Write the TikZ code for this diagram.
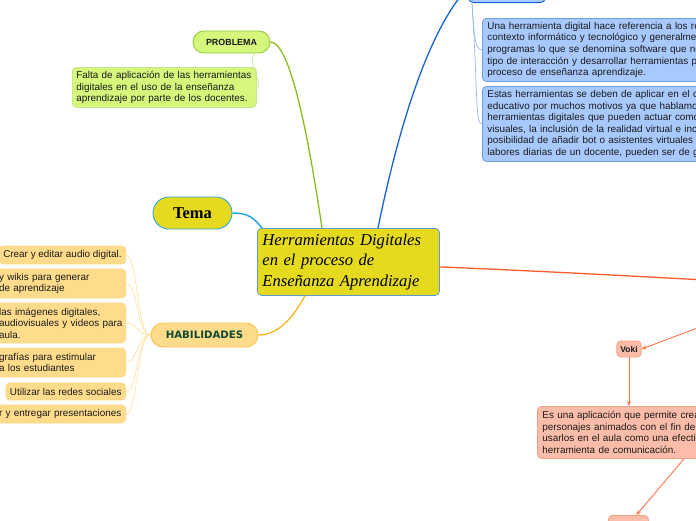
\documentclass[tikz,border=0pt]{standalone}
\usepackage{fontspec}
\setmainfont{Liberation Sans}
\newfontfamily\seriff{Liberation Serif}
\newfontfamily\verdf{DejaVu Sans}
\usetikzlibrary{arrows.meta,shapes.misc,calc}
\definecolor{cyel}{HTML}{E5DA1E}
\definecolor{cyelb}{HTML}{5B9BD5}
\definecolor{ctemab}{HTML}{2AA7DF}
\definecolor{cgrn}{HTML}{D4F77C}
\definecolor{cgrnb}{HTML}{98C83C}
\definecolor{cgrnl}{HTML}{C5E98A}
\definecolor{cgrnline}{HTML}{8DBA1F}
\definecolor{cblu}{HTML}{A8C9FD}
\definecolor{cblub}{HTML}{6E9FE6}
\definecolor{cbluline}{HTML}{1565D0}
\definecolor{cblulight}{HTML}{94B9EE}
\definecolor{cora}{HTML}{FFDC8B}
\definecolor{corab}{HTML}{F9C24A}
\definecolor{coral}{HTML}{FBD88A}
\definecolor{coraline}{HTML}{FFB41E}
\definecolor{coralight}{HTML}{FFE3A6}
\definecolor{csal}{HTML}{FBBDA9}
\definecolor{csalb}{HTML}{F7A183}
\definecolor{cred}{HTML}{FF5A2B}
\definecolor{credl}{HTML}{FF7448}
\definecolor{cgreen}{HTML}{0F4A30}
\definecolor{txt}{HTML}{1A1A1A}
\begin{document}
\begin{tikzpicture}[x=1pt,y=-1pt,
  box/.style={draw, rounded corners=4pt, line width=0.8pt, inner xsep=4pt, inner ysep=0pt,
    align=left, text=txt, font=\fontsize{9.9}{11.6}\selectfont},
  pillbox/.style={draw, rounded rectangle, line width=0.9pt, inner sep=0pt},
  thinline/.style={line width=0.7pt},
  mainline/.style={line width=1.3pt},
  arr/.style={line width=0.9pt, color=credl, -{Stealth[length=5pt,width=4pt]}}
]
\useasboundingbox (0,0) rectangle (696,520);
\clip (0,0) rectangle (696,520);

% central
\node[draw=cyelb, fill=cyel, rounded corners=4pt, line width=0.8pt, anchor=north west,
  minimum width=182pt, minimum height=67pt, text width=172pt, inner xsep=5pt, align=left,
  font=\seriff\itshape\fontsize{16.6}{20.6}\selectfont, text=black]
  (central) at (257,228) {Herramientas Digitales\\en el proceso de\\Enseñanza Aprendizaje};

% Tema
\node[pillbox, draw=ctemab, fill=cyel, minimum width=79pt, minimum height=32pt,
  font=\seriff\bfseries\fontsize{16.5}{18}\selectfont] (tema) at (192.5,213) {Tema};

% PROBLEMA
\node[pillbox, draw=cgrnb, fill=cgrn, minimum width=77pt, minimum height=22pt,
  font=\bfseries\fontsize{8.9}{10}\selectfont, text=txt] (prob) at (231.5,42) {PROBLEMA};
\node[box, draw=cgrnl, fill=cgrn, anchor=north west, minimum width=184pt, minimum height=40pt,
  text width=176pt] (pbox) at (72,67)
  {Falta de aplicación de las herramientas\\digitales en el uso de la enseñanza\\aprendizaje por parte de los docentes.};

% top blue
\node[draw=cbluline, fill=cblu, rounded corners=5pt, line width=0.9pt, anchor=south west,
  minimum width=77pt, minimum height=30pt] (topblue) at (468,3) {};
\node[box, draw=cblub, fill=cblu, anchor=north west, minimum width=280pt, minimum height=63pt,
  text width=270pt] (bb1) at (482,18)
  {Una herramienta digital hace referencia a los re\\contexto informático y tecnológico y generalmer\\programas lo que se denomina software que no\\tipo de interacción y desarrollar herramientas pa\\proceso de enseñanza aprendizaje.};
\node[box, draw=cblub, fill=cblu, anchor=north west, minimum width=280pt, minimum height=75pt,
  text width=270pt] (bb2) at (482,86)
  {Estas herramientas se deben de aplicar en el co\\educativo por muchos motivos ya que hablamos\\herramientas digitales que pueden actuar como\\visuales, la inclusión de la realidad virtual e incl\\posibilidad de añadir bot o asistentes virtuales c\\labores diarias de un docente, pueden ser de gr};

% HABILIDADES
\node[pillbox, draw=corab, fill=cora, minimum width=107pt, minimum height=24pt,
  font=\verdf\bfseries\fontsize{10.2}{12}\selectfont, text=cgreen] (hab) at (204.5,335) {HABILIDADES};
\node[box, draw=coral, fill=cora, anchor=east, minimum height=18pt] (h1) at (126,255)
  {Crear y editar audio digital.};
\node[box, draw=coral, fill=cora, anchor=east, minimum height=29pt, text width=123pt, inner xsep=3.5pt] (h2) at (126,283.5)
  {y wikis para generar\\de aprendizaje};
\node[box, draw=coral, fill=cora, anchor=east, minimum height=40pt, text width=123pt, inner xsep=3.5pt] (h3) at (126,323)
  {las imágenes digitales,\\\mbox{audiovisuales y videos para}\\aula.};
\node[box, draw=coral, fill=cora, anchor=east, minimum height=29pt, text width=123pt, inner xsep=3.5pt] (h4) at (126,362.5)
  {grafías para estimular\\a los estudiantes};
\node[box, draw=coral, fill=cora, anchor=east, minimum height=17pt] (h5) at (126,391.5)
  {Utilizar las redes sociales};
\node[box, draw=coral, fill=cora, anchor=east, minimum height=18pt, text width=123pt, inner xsep=3.5pt] (h6) at (126,414)
  {r y entregar presentaciones};

% salmon branch
\coordinate (rednode) at (760,283);
\coordinate (vsrc) at (740,312);
\node[box, draw=csalb, fill=csal, minimum height=16pt, inner xsep=3.5pt,
  font=\bfseries\fontsize{8.5}{10}\selectfont] (voki) at (629,349) {Voki};
\node[box, draw=csalb, fill=csal, anchor=north west, minimum width=230pt, minimum height=52pt,
  text width=220pt] (desc) at (537,406)
  {Es una aplicación que permite crea\\personajes animados con el fin de\\usarlos en el aula como una efectiv\\herramienta de comunicación.};
\node[draw=csalb, fill=csal, rounded corners=4pt, line width=0.8pt, anchor=north west,
  minimum width=40pt, minimum height=20pt] (bot) at (608,515) {};

% connectors
\draw[mainline, ctemab, line width=1.5pt] (tema.east) .. controls +(16,0) and +(-8,-10) .. ($(central.north west)+(5,0)$);
\draw[mainline, cgrnline] (prob.east) .. controls +(18,0) and (306,120) .. ($(central.north west)+(65,0)$);
\draw[thinline, cgrnl] ($(prob.south east)+(-4,0)$) .. controls +(-9,8) and +(8,0) .. (pbox.east);
\draw[mainline, cbluline] ($(central.north west)+(121,0)$) .. controls (398,130) and (428,30) .. (topblue.west);
\draw[thinline, cblulight] ($(topblue.south west)+(4,0)$) .. controls +(2,32) and +(-7,0) .. (bb1.west);
\draw[thinline, cblulight] ($(topblue.south west)+(4,0)$) .. controls +(6,90) and +(-7,0) .. (bb2.west);
\draw[mainline, coraline] (hab.east) .. controls +(22,0) and +(-10,18) .. ($(central.south west)+(48,0)$);
\foreach \h in {h1,h2,h3,h4,h5,h6}{
  \draw[thinline, coralight] (hab.west) .. controls +(-14,0) and +(12,0) .. (\h.east);
}
\draw[mainline, cred] ($(central.east)+(0,5)$) .. controls (560,272) and (650,277) .. (rednode);
\draw[arr] (vsrc) -- (voki.east);
\draw[arr] (voki.south) -- (voki.south |- desc.north);
\draw[arr] ($(desc.south west)+(147,0)$) -- ($(bot.north)+(8,0)$);
\end{tikzpicture}
\end{document}
